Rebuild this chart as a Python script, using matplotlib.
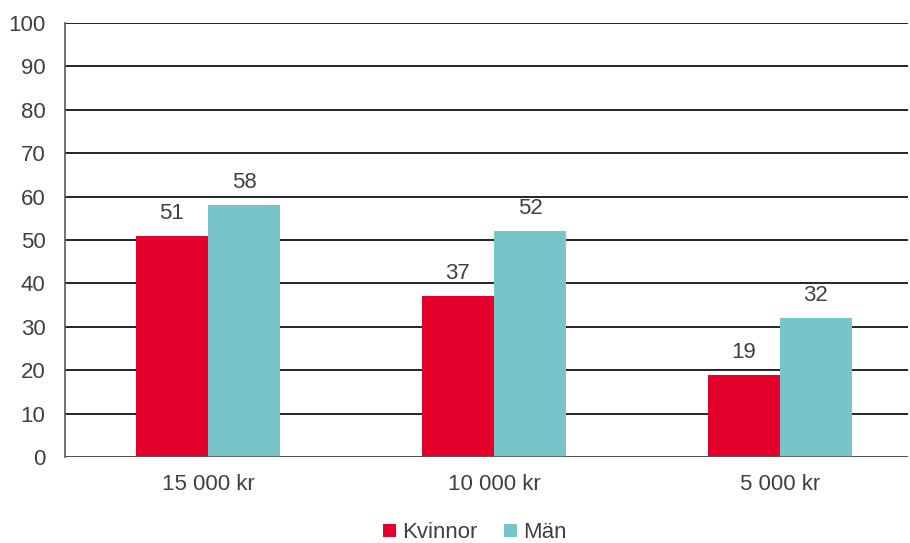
import numpy as np
import matplotlib.pyplot as plt

plt.rcParams['font.family'] = ['Liberation Sans', 'DejaVu Sans']

categories = ["15 000 kr", "10 000 kr", "5 000 kr"]
kvinnor = [51, 37, 19]
man = [58, 52, 32]

red = "#E4002B"
teal = "#77C5C8"
txt = "#404040"
fs = 16

fig = plt.figure(figsize=(9.1, 5.43), dpi=100)
ax = fig.add_axes([65/910, 1-457/543, (908-65)/910, (457-23)/543])

x = np.arange(len(categories))
w = 0.252
b1 = ax.bar(x - w/2, kvinnor, w, color=red, label="Kvinnor", zorder=3)
b2 = ax.bar(x + w/2, man, w, color=teal, label="Män", zorder=3)

# data labels above each bar
for bars, vals in ((b1, kvinnor), (b2, man)):
    for r, v in zip(bars, vals):
        ax.text(r.get_x() + r.get_width()/2, v + 3.9, str(v), ha="center",
                va="baseline", fontsize=fs, color=txt)

ax.set_ylim(0, 100)
ax.set_yticks(range(0, 101, 10))
ax.set_xlim(-0.5, 2.448)
ax.set_xticks(x)
ax.set_xticklabels(categories)
ax.yaxis.grid(True, color="black", linewidth=1.2, zorder=0)
ax.tick_params(axis="both", length=0, labelsize=fs, labelcolor=txt)
ax.tick_params(axis="y", pad=14)
ax.tick_params(axis="x", pad=12)
for s in ("top", "right", "bottom"):
    ax.spines[s].set_visible(False)
ax.spines["left"].set_color("#595959")
ax.spines["left"].set_linewidth(1.2)
ax.axhline(0, color="#595959", linewidth=1.2, zorder=4)

fig.legend(handles=[b1, b2], loc="center", bbox_to_anchor=(0.522, 1-533/543),
           ncol=2, frameon=False, fontsize=fs, handlelength=0.55, handleheight=0.55,
           handletextpad=0.3, columnspacing=1.2, labelcolor=txt)

fig.savefig("out.png", dpi=100)
